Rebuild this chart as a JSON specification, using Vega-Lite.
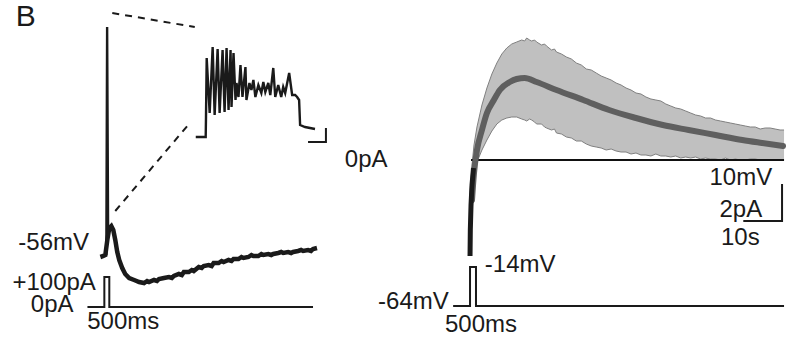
{
  "$schema": "https://vega.github.io/schema/vega-lite/v6.json",
  "width": 795,
  "height": 343,
  "autosize": {"type": "fit", "contains": "padding"},
  "padding": 0,
  "background": "white",
  "config": {"view": {"stroke": null}},
  "datasets": {
    "band": [
      {"t": 473, "lo": 256, "hi": 256}, {"t": 474, "lo": 240, "hi": 200}, {"t": 475, "lo": 215, "hi": 165},
      {"t": 477, "lo": 180, "hi": 145}, {"t": 480, "lo": 162, "hi": 127}, {"t": 485, "lo": 150, "hi": 105},
      {"t": 490, "lo": 140, "hi": 88}, {"t": 495, "lo": 131, "hi": 74}, {"t": 500, "lo": 124, "hi": 63},
      {"t": 505, "lo": 120, "hi": 54}, {"t": 510, "lo": 118, "hi": 48}, {"t": 515, "lo": 117, "hi": 44},
      {"t": 520, "lo": 117, "hi": 42}, {"t": 525, "lo": 119, "hi": 40}, {"t": 528, "lo": 120, "hi": 41},
      {"t": 530, "lo": 121, "hi": 38}, {"t": 533, "lo": 119, "hi": 40}, {"t": 535, "lo": 120, "hi": 41},
      {"t": 538, "lo": 122, "hi": 40}, {"t": 540, "lo": 124, "hi": 42}, {"t": 545, "lo": 124, "hi": 45},
      {"t": 548, "lo": 127, "hi": 44}, {"t": 550, "lo": 128, "hi": 46}, {"t": 555, "lo": 130, "hi": 50},
      {"t": 558, "lo": 129, "hi": 49}, {"t": 560, "lo": 133, "hi": 52}, {"t": 565, "lo": 134, "hi": 54},
      {"t": 570, "lo": 137, "hi": 57}, {"t": 575, "lo": 138, "hi": 59}, {"t": 580, "lo": 141, "hi": 63},
      {"t": 585, "lo": 141, "hi": 65}, {"t": 590, "lo": 144, "hi": 69}, {"t": 595, "lo": 146, "hi": 70},
      {"t": 600, "lo": 147, "hi": 73}, {"t": 605, "lo": 148, "hi": 76}, {"t": 610, "lo": 150, "hi": 78},
      {"t": 615, "lo": 149, "hi": 80}, {"t": 620, "lo": 151, "hi": 83}, {"t": 625, "lo": 152, "hi": 85},
      {"t": 630, "lo": 152, "hi": 88}, {"t": 635, "lo": 154, "hi": 90}, {"t": 640, "lo": 153, "hi": 93},
      {"t": 645, "lo": 155, "hi": 94}, {"t": 650, "lo": 155, "hi": 97}, {"t": 655, "lo": 156, "hi": 99},
      {"t": 660, "lo": 154, "hi": 100}, {"t": 665, "lo": 156, "hi": 101}, {"t": 670, "lo": 156, "hi": 104},
      {"t": 675, "lo": 157, "hi": 106}, {"t": 680, "lo": 156, "hi": 108}, {"t": 685, "lo": 158, "hi": 109},
      {"t": 690, "lo": 157, "hi": 111}, {"t": 695, "lo": 158, "hi": 113}, {"t": 700, "lo": 157, "hi": 115},
      {"t": 705, "lo": 159, "hi": 116}, {"t": 710, "lo": 158, "hi": 118}, {"t": 715, "lo": 159, "hi": 118},
      {"t": 720, "lo": 159, "hi": 120}, {"t": 725, "lo": 160, "hi": 121}, {"t": 730, "lo": 158, "hi": 122},
      {"t": 735, "lo": 160, "hi": 123}, {"t": 740, "lo": 159, "hi": 124}, {"t": 745, "lo": 160, "hi": 125},
      {"t": 750, "lo": 160, "hi": 126}, {"t": 755, "lo": 159, "hi": 127}, {"t": 760, "lo": 159, "hi": 127},
      {"t": 765, "lo": 160, "hi": 129}, {"t": 770, "lo": 160, "hi": 128}, {"t": 775, "lo": 160, "hi": 128},
      {"t": 780, "lo": 160, "hi": 129}, {"t": 785, "lo": 160, "hi": 130}, {"t": 789, "lo": 160, "hi": 130}
    ],
    "lines": [
      {"g": "mean", "t": 475, "v": 200}, {"g": "mean", "t": 477, "v": 173}, {"g": "mean", "t": 480, "v": 150},
      {"g": "mean", "t": 485, "v": 130}, {"g": "mean", "t": 490, "v": 113}, {"g": "mean", "t": 497, "v": 100},
      {"g": "mean", "t": 503, "v": 90}, {"g": "mean", "t": 513, "v": 82}, {"g": "mean", "t": 520, "v": 79},
      {"g": "mean", "t": 528, "v": 78}, {"g": "mean", "t": 540, "v": 82}, {"g": "mean", "t": 560, "v": 90},
      {"g": "mean", "t": 587, "v": 100}, {"g": "mean", "t": 613, "v": 110}, {"g": "mean", "t": 640, "v": 118},
      {"g": "mean", "t": 667, "v": 125}, {"g": "mean", "t": 693, "v": 130}, {"g": "mean", "t": 720, "v": 135},
      {"g": "mean", "t": 747, "v": 140}, {"g": "mean", "t": 767, "v": 143}, {"g": "mean", "t": 788, "v": 146},
      {"g": "meanDark", "t": 473, "v": 256}, {"g": "meanDark", "t": 473.3, "v": 230}, {"g": "meanDark", "t": 474, "v": 205},
      {"g": "meanDark", "t": 475, "v": 185}, {"g": "meanDark", "t": 476.5, "v": 168},
      {"g": "trace", "t": 101, "v": 257}, {"g": "trace", "t": 104, "v": 256}, {"g": "trace", "t": 106, "v": 255},
      {"g": "trace", "t": 108, "v": 240}, {"g": "trace", "t": 110, "v": 228}, {"g": "trace", "t": 112, "v": 226},
      {"g": "trace", "t": 114, "v": 230}, {"g": "trace", "t": 116, "v": 240}, {"g": "trace", "t": 118, "v": 252},
      {"g": "trace", "t": 120, "v": 260}, {"g": "trace", "t": 123, "v": 268}, {"g": "trace", "t": 126, "v": 274},
      {"g": "trace", "t": 130, "v": 278}, {"g": "trace", "t": 135, "v": 280}, {"g": "trace", "t": 140, "v": 282},
      {"g": "trace", "t": 145, "v": 283}, {"g": "trace", "t": 148, "v": 281}, {"g": "trace", "t": 150, "v": 282},
      {"g": "trace", "t": 155, "v": 280}, {"g": "trace", "t": 158, "v": 281}, {"g": "trace", "t": 160, "v": 279},
      {"g": "trace", "t": 165, "v": 278}, {"g": "trace", "t": 170, "v": 277}, {"g": "trace", "t": 173, "v": 278},
      {"g": "trace", "t": 175, "v": 276}, {"g": "trace", "t": 180, "v": 274}, {"g": "trace", "t": 183, "v": 275},
      {"g": "trace", "t": 185, "v": 272}, {"g": "trace", "t": 190, "v": 272}, {"g": "trace", "t": 193, "v": 270},
      {"g": "trace", "t": 195, "v": 271}, {"g": "trace", "t": 200, "v": 267}, {"g": "trace", "t": 203, "v": 268},
      {"g": "trace", "t": 205, "v": 266}, {"g": "trace", "t": 210, "v": 265}, {"g": "trace", "t": 213, "v": 266},
      {"g": "trace", "t": 215, "v": 263}, {"g": "trace", "t": 220, "v": 263}, {"g": "trace", "t": 223, "v": 261},
      {"g": "trace", "t": 225, "v": 262}, {"g": "trace", "t": 230, "v": 260}, {"g": "trace", "t": 233, "v": 261},
      {"g": "trace", "t": 235, "v": 259}, {"g": "trace", "t": 240, "v": 259}, {"g": "trace", "t": 243, "v": 257},
      {"g": "trace", "t": 245, "v": 258}, {"g": "trace", "t": 250, "v": 257}, {"g": "trace", "t": 253, "v": 255},
      {"g": "trace", "t": 255, "v": 256}, {"g": "trace", "t": 260, "v": 256}, {"g": "trace", "t": 263, "v": 254},
      {"g": "trace", "t": 265, "v": 255}, {"g": "trace", "t": 270, "v": 254}, {"g": "trace", "t": 273, "v": 255},
      {"g": "trace", "t": 275, "v": 254}, {"g": "trace", "t": 280, "v": 253}, {"g": "trace", "t": 283, "v": 252},
      {"g": "trace", "t": 285, "v": 253}, {"g": "trace", "t": 290, "v": 252}, {"g": "trace", "t": 293, "v": 253},
      {"g": "trace", "t": 295, "v": 252}, {"g": "trace", "t": 300, "v": 251}, {"g": "trace", "t": 303, "v": 250},
      {"g": "trace", "t": 305, "v": 251}, {"g": "trace", "t": 310, "v": 250}, {"g": "trace", "t": 313, "v": 251},
      {"g": "trace", "t": 315, "v": 249}, {"g": "trace", "t": 319, "v": 248},
      {"g": "spike", "t": 107, "v": 255}, {"g": "spike", "t": 107.8, "v": 27}, {"g": "spike", "t": 108.8, "v": 235},
      {"g": "burst", "t": 197, "v": 137}, {"g": "burst", "t": 207, "v": 137}, {"g": "burst", "t": 207.3, "v": 117},
      {"g": "burst", "t": 208, "v": 58}, {"g": "burst", "t": 211, "v": 113}, {"g": "burst", "t": 214, "v": 47},
      {"g": "burst", "t": 216, "v": 115}, {"g": "burst", "t": 219, "v": 49}, {"g": "burst", "t": 221, "v": 113},
      {"g": "burst", "t": 224, "v": 50}, {"g": "burst", "t": 226, "v": 112}, {"g": "burst", "t": 228, "v": 48},
      {"g": "burst", "t": 230, "v": 110}, {"g": "burst", "t": 232, "v": 50}, {"g": "burst", "t": 233, "v": 107},
      {"g": "burst", "t": 235, "v": 53}, {"g": "burst", "t": 237, "v": 100}, {"g": "burst", "t": 238, "v": 83},
      {"g": "burst", "t": 240, "v": 97}, {"g": "burst", "t": 242, "v": 65}, {"g": "burst", "t": 244, "v": 97},
      {"g": "burst", "t": 247, "v": 67}, {"g": "burst", "t": 248, "v": 100}, {"g": "burst", "t": 251, "v": 83},
      {"g": "burst", "t": 253, "v": 90}, {"g": "burst", "t": 255, "v": 80}, {"g": "burst", "t": 257, "v": 97},
      {"g": "burst", "t": 260, "v": 85}, {"g": "burst", "t": 263, "v": 93}, {"g": "burst", "t": 265, "v": 82},
      {"g": "burst", "t": 267, "v": 92}, {"g": "burst", "t": 270, "v": 83}, {"g": "burst", "t": 272, "v": 95},
      {"g": "burst", "t": 275, "v": 68}, {"g": "burst", "t": 277, "v": 97}, {"g": "burst", "t": 280, "v": 85},
      {"g": "burst", "t": 283, "v": 97}, {"g": "burst", "t": 285, "v": 87}, {"g": "burst", "t": 287, "v": 93},
      {"g": "burst", "t": 291, "v": 73}, {"g": "burst", "t": 294, "v": 95}, {"g": "burst", "t": 297, "v": 95},
      {"g": "burst", "t": 299, "v": 97}, {"g": "burst", "t": 301, "v": 100}, {"g": "burst", "t": 302, "v": 125},
      {"g": "burst", "t": 307, "v": 127}, {"g": "burst", "t": 317, "v": 129},
      {"g": "stimL", "t": 88, "v": 307}, {"g": "stimL", "t": 105, "v": 307}, {"g": "stimL", "t": 105, "v": 277},
      {"g": "stimL", "t": 110, "v": 277}, {"g": "stimL", "t": 110, "v": 307}, {"g": "stimL", "t": 315, "v": 307},
      {"g": "stimR", "t": 456, "v": 306}, {"g": "stimR", "t": 473, "v": 306}, {"g": "stimR", "t": 473, "v": 267},
      {"g": "stimR", "t": 479, "v": 267}, {"g": "stimR", "t": 479, "v": 306}, {"g": "stimR", "t": 789, "v": 306},
      {"g": "zero", "t": 474, "v": 160}, {"g": "zero", "t": 789, "v": 160},
      {"g": "scaleL", "t": 310, "v": 142}, {"g": "scaleL", "t": 328, "v": 142}, {"g": "scaleL", "t": 328, "v": 128},
      {"g": "scaleR", "t": 748, "v": 221}, {"g": "scaleR", "t": 787, "v": 221}, {"g": "scaleR", "t": 787, "v": 184}
    ],
    "dash": [
      {"g": "d1", "t": 113, "v": 13}, {"g": "d1", "t": 196, "v": 27},
      {"g": "d2", "t": 116, "v": 211}, {"g": "d2", "t": 191, "v": 123}
    ],
    "labels": [
      {"t": 26, "v": 17, "text": "B", "big": "y"},
      {"t": 54, "v": 243, "text": "-56mV", "big": "n"},
      {"t": 54.5, "v": 283, "text": "+100pA", "big": "n"},
      {"t": 52.5, "v": 305, "text": "0pA", "big": "n"},
      {"t": 124, "v": 322, "text": "500ms", "big": "n"},
      {"t": 368.5, "v": 160, "text": "0pA", "big": "n"},
      {"t": 416, "v": 302, "text": "-64mV", "big": "n"},
      {"t": 523.5, "v": 265, "text": "-14mV", "big": "n"},
      {"t": 484, "v": 325, "text": "500ms", "big": "n"},
      {"t": 745.5, "v": 178, "text": "10mV", "big": "n"},
      {"t": 745.5, "v": 210, "text": "2pA", "big": "n"},
      {"t": 745, "v": 238, "text": "10s", "big": "n"}
    ]
  },
  "layer": [
    {
      "data": {"name": "band"},
      "mark": {"type": "area", "color": "#c0c0c0", "opacity": 1},
      "encoding": {
        "x": {"field": "t", "type": "quantitative", "scale": {"domain": [0, 795], "zero": false, "nice": false}, "axis": null},
        "y": {"field": "lo", "type": "quantitative", "scale": {"domain": [0, 343], "zero": false, "nice": false, "reverse": true}, "axis": null},
        "y2": {"field": "hi"}
      }
    },
    {
      "data": {"name": "band"},
      "mark": {"type": "line", "color": "#808080", "strokeWidth": 1},
      "encoding": {
        "x": {"field": "t", "type": "quantitative", "axis": null},
        "y": {"field": "hi", "type": "quantitative", "axis": null}
      }
    },
    {
      "data": {"name": "band"},
      "mark": {"type": "line", "color": "#808080", "strokeWidth": 1},
      "encoding": {
        "x": {"field": "t", "type": "quantitative", "axis": null},
        "y": {"field": "lo", "type": "quantitative", "axis": null}
      }
    },
    {
      "data": {"name": "lines"},
      "transform": [{"filter": "datum.g === 'zero'"}],
      "mark": {"type": "line", "color": "#111111", "strokeWidth": 2},
      "encoding": {
        "x": {"field": "t", "type": "quantitative", "axis": null},
        "y": {"field": "v", "type": "quantitative", "axis": null},
        "order": {"value": null}
      }
    },
    {
      "data": {"name": "lines"},
      "transform": [{"filter": "datum.g === 'mean'"}],
      "mark": {"type": "line", "color": "#5f5f5f", "strokeWidth": 6, "strokeCap": "round", "interpolate": "monotone"},
      "encoding": {
        "x": {"field": "t", "type": "quantitative", "axis": null},
        "y": {"field": "v", "type": "quantitative", "axis": null},
        "order": {"value": null}
      }
    },
    {
      "data": {"name": "lines"},
      "transform": [{"filter": "datum.g === 'meanDark'"}],
      "mark": {"type": "line", "color": "#1a1a1a", "strokeWidth": 5},
      "encoding": {
        "x": {"field": "t", "type": "quantitative", "axis": null},
        "y": {"field": "v", "type": "quantitative", "axis": null},
        "order": {"value": null}
      }
    },
    {
      "data": {"name": "lines"},
      "transform": [{"filter": "datum.g === 'trace'"}],
      "mark": {"type": "line", "color": "#1a1a1a", "strokeWidth": 4.5},
      "encoding": {
        "x": {"field": "t", "type": "quantitative", "axis": null},
        "y": {"field": "v", "type": "quantitative", "axis": null},
        "order": {"value": null}
      }
    },
    {
      "data": {"name": "lines"},
      "transform": [{"filter": "datum.g === 'spike' || datum.g === 'burst'"}],
      "mark": {"type": "line", "color": "#1a1a1a", "strokeWidth": 2.4, "strokeJoin": "miter"},
      "encoding": {
        "x": {"field": "t", "type": "quantitative", "axis": null},
        "y": {"field": "v", "type": "quantitative", "axis": null},
        "detail": {"field": "g"},
        "order": {"value": null}
      }
    },
    {
      "data": {"name": "lines"},
      "transform": [{"filter": "datum.g === 'stimL' || datum.g === 'stimR' || datum.g === 'scaleL' || datum.g === 'scaleR'"}],
      "mark": {"type": "line", "color": "#1a1a1a", "strokeWidth": 2},
      "encoding": {
        "x": {"field": "t", "type": "quantitative", "axis": null},
        "y": {"field": "v", "type": "quantitative", "axis": null},
        "detail": {"field": "g"},
        "order": {"value": null}
      }
    },
    {
      "data": {"name": "dash"},
      "mark": {"type": "line", "color": "#1a1a1a", "strokeWidth": 2, "strokeDash": [7, 6]},
      "encoding": {
        "x": {"field": "t", "type": "quantitative", "axis": null},
        "y": {"field": "v", "type": "quantitative", "axis": null},
        "detail": {"field": "g"},
        "order": {"value": null}
      }
    },
    {
      "data": {"name": "labels"},
      "transform": [{"filter": "datum.big === 'n'"}],
      "mark": {"type": "text", "font": "Liberation Sans", "fontSize": 24, "color": "#1a1a1a", "align": "center", "baseline": "middle"},
      "encoding": {
        "x": {"field": "t", "type": "quantitative", "axis": null},
        "y": {"field": "v", "type": "quantitative", "axis": null},
        "text": {"field": "text"}
      }
    },
    {
      "data": {"name": "labels"},
      "transform": [{"filter": "datum.big === 'y'"}],
      "mark": {"type": "text", "font": "Liberation Sans", "fontSize": 30, "color": "#1a1a1a", "align": "center", "baseline": "middle"},
      "encoding": {
        "x": {"field": "t", "type": "quantitative", "axis": null},
        "y": {"field": "v", "type": "quantitative", "axis": null},
        "text": {"field": "text"}
      }
    }
  ]
}
